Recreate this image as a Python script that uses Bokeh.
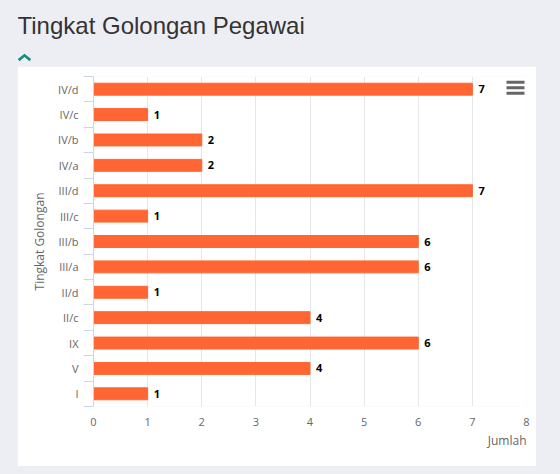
from bokeh.core.properties import value
from bokeh.embed import file_html
from bokeh.layouts import column
from bokeh.models import (BoxAnnotation, FixedTicker, GlobalInlineStyleSheet,
                          Range1d, Title)
from bokeh.plotting import figure
from bokeh.resources import INLINE

# data, bottom to top as in the chart
golongan = ["I", "V", "IX", "II/c", "II/d", "III/a", "III/b", "III/c",
            "III/d", "IV/a", "IV/b", "IV/c", "IV/d"]
jumlah = [1, 4, 6, 4, 1, 6, 6, 1, 7, 2, 2, 1, 7]
x_ticks = [0, 1, 2, 3, 4, 5, 6, 7, 8]

BG = "#eceef3"
BAR = "#ff6633"
GREY_TXT = "#666666"
FONT = "Open Sans"

# heading strip (page title + collapse chevron)
head = figure(
    width=544, height=66,
    x_range=Range1d(0, 544), y_range=Range1d(66, 0),
    x_axis_type=None, y_axis_type=None,
    output_backend="svg", toolbar_location=None,
    min_border_left=0, min_border_right=0,
    min_border_top=0, min_border_bottom=0,
    outline_line_color=None,
    border_fill_color=BG, background_fill_color=BG,
)
head.grid.visible = False
head.stylesheets = [GlobalInlineStyleSheet(css="body{background:%s;}" % BG)]
head.text(x=[17], y=[24.5], text=["Tingkat Golongan Pegawai"],
          text_font=value("Liberation Sans"), text_font_size="24px",
          text_color="#333333", text_align="left", text_baseline="alphabetic")
head.patch(x=[17.3, 24, 30.7, 29, 24, 19], y=[58.5, 53.3, 58.5, 60.7, 56.5, 60.7],
           color="#138f7a", line_color=None)

# the chart card
pos = [i + 0.5 for i in range(len(golongan))]

p = figure(
    width=519, height=400,
    x_range=Range1d(0, 8), y_range=Range1d(0, len(golongan)),
    output_backend="svg", toolbar_location=None,
    min_border_left=76, min_border_right=10,
    min_border_top=10, min_border_bottom=60,
    border_fill_color="white", background_fill_color="white",
    outline_line_color=None,
)
p.margin = (0, 0, 0, 17)

p.hbar(y=pos, right=jumlah, height=0.47, color=BAR)
p.text(x=jumlah, y=pos, text=[str(v) for v in jumlah], x_offset=6,
       text_font=value(FONT), text_font_style="bold", text_font_size="11px",
       text_color="black", text_align="left", text_baseline="middle")

# x axis (values)
p.xaxis.ticker = FixedTicker(ticks=x_ticks)
p.xaxis.axis_line_color = None
p.xaxis.major_tick_line_color = None
p.xaxis.minor_tick_line_color = None
p.xaxis.major_label_standoff = 5
p.xaxis.major_label_text_font = FONT
p.xaxis.major_label_text_font_size = "11px"
p.xaxis.major_label_text_color = GREY_TXT
p.xgrid.ticker = FixedTicker(ticks=x_ticks)
p.xgrid.grid_line_color = "#e6e6e6"
p.ygrid.grid_line_color = None

p.add_layout(Title(text="Jumlah", align="right", text_font=FONT,
                   text_font_size="12px", text_font_style="normal",
                   text_color=GREY_TXT, standoff=3), "below")

# y axis (categories), ticks between the bands
ya = p.yaxis[0]
ya.ticker = FixedTicker(ticks=pos, minor_ticks=list(range(len(golongan) + 1)))
ya.major_label_overrides = {t: g for t, g in zip(pos, golongan)}
ya.axis_line_color = "#ccd6eb"
ya.major_tick_line_color = None
ya.major_tick_out = 0
ya.major_tick_in = 0
ya.minor_tick_line_color = "#ccd6eb"
ya.minor_tick_out = 10
ya.minor_tick_in = 0
ya.major_label_standoff = 5
ya.major_label_text_font = FONT
ya.major_label_text_font_size = "11px"
ya.major_label_text_color = GREY_TXT
ya.axis_label = "Tingkat Golongan"
ya.axis_label_standoff = 7
ya.axis_label_text_font = FONT
ya.axis_label_text_font_size = "12px"
ya.axis_label_text_font_style = "normal"
ya.axis_label_text_color = GREY_TXT

# menu icon
for yc in [15.7, 21.3, 26.7]:
    p.add_layout(BoxAnnotation(left=489, right=507, top=yc - 1.5, bottom=yc + 1.5,
                               left_units="canvas", right_units="canvas",
                               top_units="canvas", bottom_units="canvas",
                               fill_color="#666666", fill_alpha=1, line_color=None))

layout = column(column(head), p, spacing=0)
open("out.html", "w").write(file_html(layout, INLINE))
